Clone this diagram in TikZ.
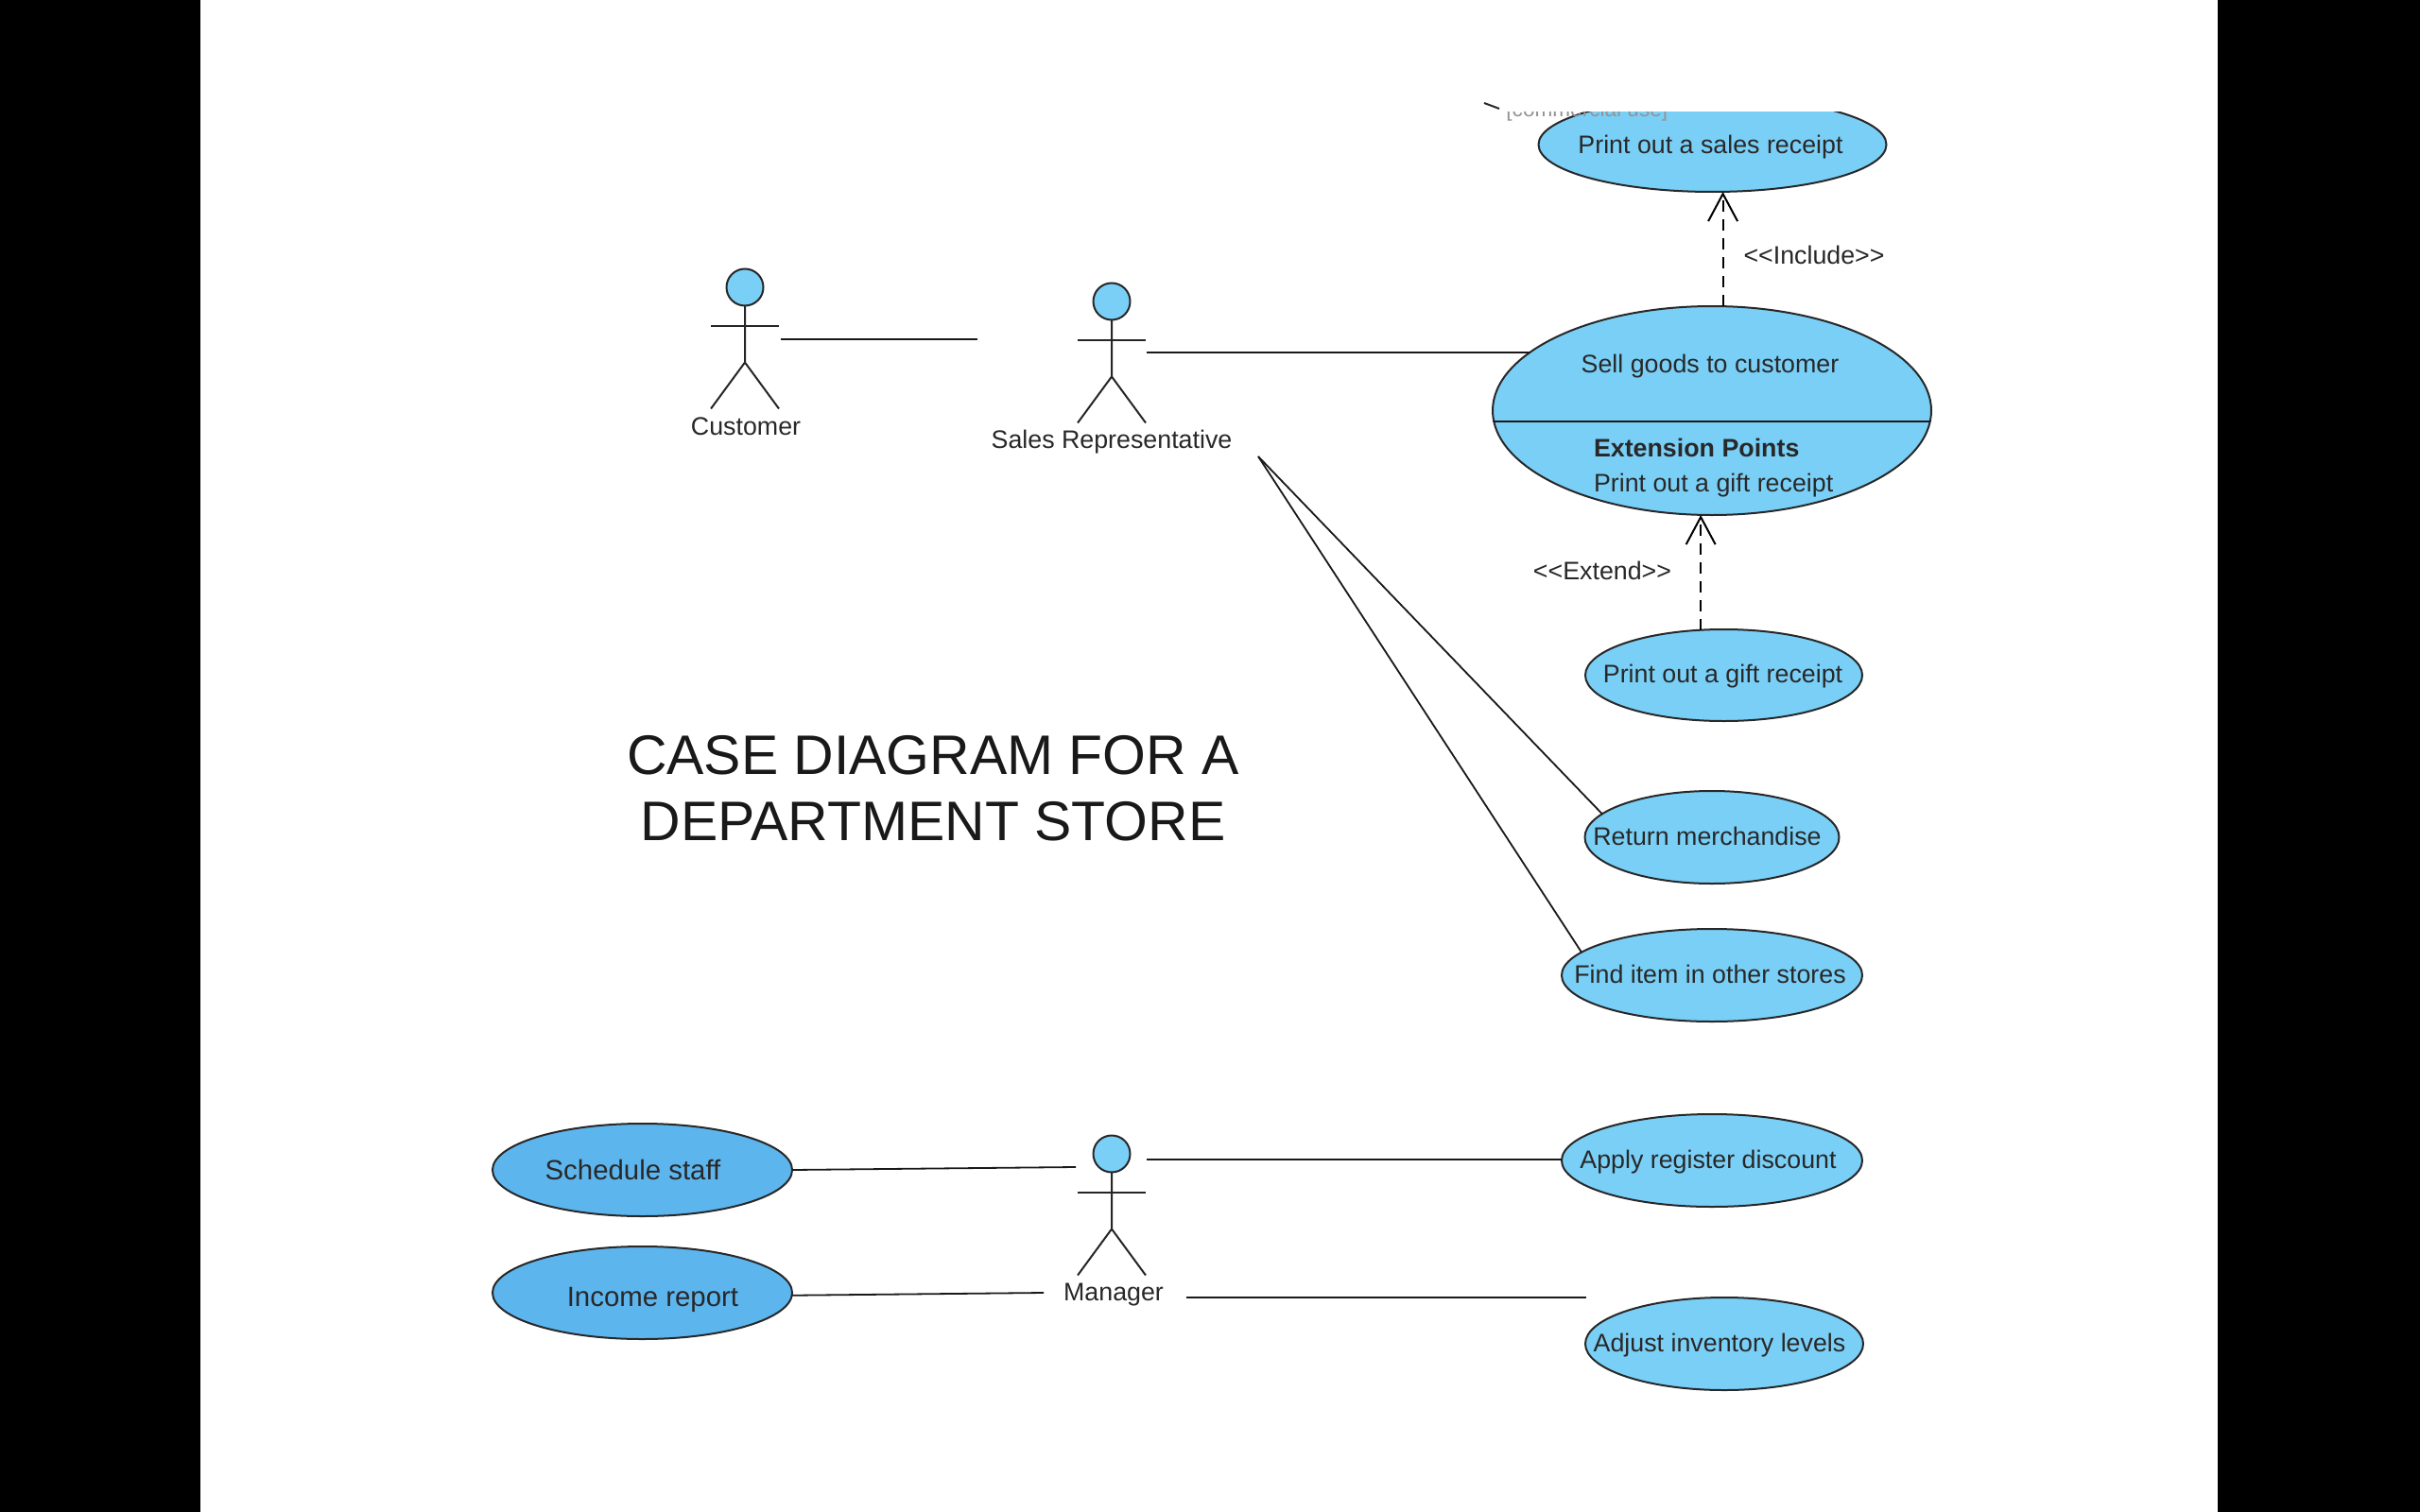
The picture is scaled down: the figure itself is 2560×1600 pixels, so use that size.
\documentclass[tikz,border=0pt]{standalone}
\usepackage{fontspec}
\setmainfont{Liberation Sans}
\usetikzlibrary{arrows.meta,shapes.geometric,calc}
\definecolor{ucblue}{RGB}{122,207,247}
\definecolor{ucdark}{RGB}{93,181,238}
\definecolor{inkc}{RGB}{40,40,40}
\tikzset{
  px/.style={x=0.5pt,y=-0.5pt},
  uc/.style={ellipse,draw=inkc,line width=1pt,fill=ucblue,inner xsep=-60pt,inner ysep=0pt,outer sep=0pt,font=\fontsize{13.4}{16}\selectfont,text=inkc,text depth=0pt},
  ucl/.style={uc,text depth=1.5pt},
  ucd/.style={uc,fill=ucdark,font=\fontsize{14.7}{17}\selectfont},
  lab/.style={font=\fontsize{13.4}{16}\selectfont,text=inkc,inner sep=0pt,outer sep=0pt},
  link/.style={draw=black!90,line width=1.1pt},
  dep/.style={draw=black,line width=1pt,dash pattern=on 6pt off 4pt,-{Straight Barb[length=14.5pt,width=15.5pt,line width=1pt]}},
  body/.style={draw=black!85,line width=1pt},
  head/.style={circle,draw=inkc,line width=1pt,fill=ucblue,minimum size=19.5pt,inner sep=0pt,outer sep=0pt},
}
\newcommand{\usecase}[7][uc]{\node[#1,minimum width=#4pt,minimum height=#5pt] (#6) at (#2,#3) {#7};}
\newcommand{\stick}[3]{%
  \node[head] (#1head) at (#2,#3) {};
  \draw[body] (#1head.south) -- ++(0,60) coordinate (#1hip)
    ++(-36,49) -- (#1hip) -- ++(36,49);
  \draw[body] ($(#1head.south)+(-36,21)$) -- ++(72,0);
}
\begin{document}
\begin{tikzpicture}[px]
\useasboundingbox (0,0) rectangle (2560,1600);
\fill[white] (0,0) rectangle (2560,1600);
\fill[black] (0,0) rectangle (212,1600);
\fill[black] (2346,0) rectangle (2560,1600);
% use cases (width and height in pt: half of the pixel size)
\usecase{1811.5}{153}{184}{50}{print}{\hspace*{-2pt}Print out a sales receipt}
\usecase{1811}{434.5}{232}{110.5}{sell}{}
\usecase[ucl]{1823.5}{714.5}{146.5}{48.5}{gift}{\hspace*{-1pt}Print out a gift receipt}
\usecase[ucl]{1811}{886}{134.5}{49}{return}{\hspace*{-5pt}Return merchandise}
\usecase[ucl]{1811}{1032}{159}{49}{find}{\hspace*{-2pt}Find item in other stores}
\usecase[ucl]{1811}{1228}{159}{49}{apply}{\hspace*{-4pt}Apply register discount}
\usecase[ucl]{1824}{1422}{147}{49}{adjust}{\hspace*{-5pt}Adjust inventory levels}
\usecase[ucd]{679.5}{1238}{158.5}{49}{sched}{\hspace*{-10pt}Schedule staff}
\usecase[ucd]{679.5}{1368}{158.5}{49}{income}{\raisebox{-4pt}{Income report}\hspace*{-11pt}}
\coordinate (sellDL) at (1580,446);
\coordinate (sellDR) at (2042,446);
\draw[link,line width=1pt] (sellDL) -- (sellDR);
\node[lab] (sellT) at (1809,388) {Sell goods to customer};
\node[lab,anchor=base west] (extT) at (1686,483) {\textbf{Extension Points}};
\node[lab,anchor=base west] (extP) at (1686,520) {Print out a gift receipt};
% the cut top of the sheet
\fill[white] (1400,0) rectangle (2100,118);
\begin{scope}
  \clip (1560,118.5) rectangle (1800,135);
  \node[font=\fontsize{11.3}{13}\selectfont,text=black!42,anchor=base west,inner sep=0pt] (cutT) at (1593,124) {[commercial use]};
\end{scope}
\coordinate (tickA) at (1570,109);
\coordinate (tickB) at (1586,115);
\draw[draw=inkc,line width=1pt] (tickA) -- (tickB);
% actors
\stick{cust}{788}{304}
\stick{srep}{1176}{319}
\stick{mgr}{1176}{1221}
\node[lab] (custL) at (789,451) {Customer};
\node[lab] (srepL) at (1176,468) {Sales Representative};
\node[lab] (mgrL) at (1178,1370) {Manager};
% connector ends
\coordinate (custE) at (826,359);
\coordinate (custF) at (1034,359);
\coordinate (srepE) at (1213,373);
\coordinate (srepV) at (1331,483);
\coordinate (mgrE) at (1213,1227);
\coordinate (mgrW) at (1138,1235);
\coordinate (mgrLW) at (1104,1368);
\coordinate (mgrLE) at (1255,1373);
\coordinate (adjF) at (1678,1373);
\draw[link] (custE) -- (custF);
\draw[link] (srepE) -- (srepE -| sell.162.3);
\draw[link,line width=0.9pt] (srepV) -- (return.168.5);
\draw[link,line width=0.9pt] (srepV) -- (find.170.6);
\draw[link] (mgrE) -- (mgrE -| apply.west);
\draw[link] (mgrLE) -- (adjF);
\draw[link,line width=0.9pt] (sched.east) -- (mgrW);
\draw[link,line width=0.9pt] (income.359) -- (mgrLW);
% include and extend
\draw[dep] (sell.84) -- (sell.84 |- print.south);
\draw[dep] (gift.117) -- (gift.117 |- sell.south);
\node[lab,text=inkc] (incL) at (1919,270) {<{}<Include>{}>};
\node[lab,text=inkc] (extL) at (1695,604) {<{}<Extend>{}>};
% title
\node[font=\fontsize{29.45}{35}\selectfont,align=center,inner sep=0pt,text=black!90] (title) at (987,834) {CASE DIAGRAM FOR A\\DEPARTMENT STORE};
\end{tikzpicture}
\end{document}
